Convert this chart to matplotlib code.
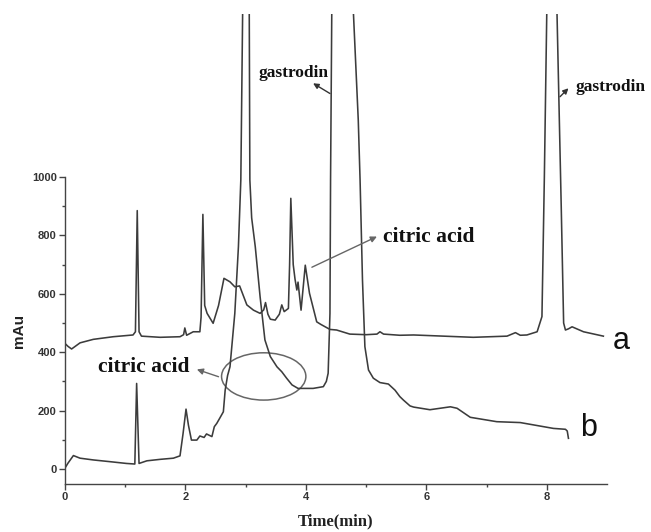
import matplotlib
matplotlib.use("Agg")
import matplotlib.pyplot as plt
from matplotlib.patches import Ellipse

# ---- data (time in min, absorbance in mAu) ----
time_a = [0.00, 0.05, 0.11, 0.25, 0.47, 0.80, 1.13, 1.17, 1.20, 1.23, 1.27, 1.58, 1.91,
          1.97, 1.99, 2.02, 2.13, 2.24, 2.26, 2.29, 2.32, 2.36, 2.46, 2.55, 2.64, 2.74,
          2.82, 2.90, 3.02, 3.13, 3.24, 3.30, 3.33, 3.37, 3.41, 3.49, 3.56, 3.60, 3.64,
          3.71, 3.73, 3.75, 3.79, 3.82, 3.85, 3.87, 3.92, 3.99, 4.06, 4.18, 4.25, 4.40,
          4.51, 4.73, 5.00, 5.18, 5.23, 5.29, 5.56, 5.79, 6.78, 7.34, 7.48, 7.56, 7.67,
          7.84, 7.92, 7.96, 8.00, 8.085, 8.17, 8.24, 8.28, 8.31, 8.36, 8.42, 8.61, 8.94]
signal_a = [430, 420, 411, 432, 444, 453, 459, 470, 885, 470, 455, 451, 453,
            460, 483, 458, 470, 470, 520, 872, 560, 533, 499, 560, 653, 641,
            624, 627, 562, 544, 533, 545, 570, 530, 513, 510, 530, 562, 539,
            550, 700, 927, 700, 650, 613, 640, 544, 698, 602, 504, 495, 478,
            476, 462, 460, 462, 470, 462, 458, 459, 451, 455, 467, 458, 459,
            470, 522, 1000, 1560, 3500, 1560, 900, 500, 476, 480, 487, 470, 455]

time_b = [0.00, 0.05, 0.14, 0.25, 0.47, 0.75, 1.02, 1.16, 1.19, 1.23, 1.36, 1.58, 1.80,
          1.91, 1.96, 2.01, 2.05, 2.10, 2.19, 2.24, 2.31, 2.35, 2.44, 2.48, 2.52, 2.57,
          2.63, 2.66, 2.70, 2.74, 2.82, 2.88, 2.92, 2.95, 3.00, 3.06, 3.07, 3.10, 3.16,
          3.24, 3.32, 3.41, 3.52, 3.60, 3.68, 3.77, 3.87, 4.12, 4.29, 4.34, 4.37, 4.40,
          4.41, 4.43, 4.60, 4.79, 4.87, 4.90, 4.94, 4.98, 5.04, 5.12, 5.23, 5.37, 5.48,
          5.56, 5.62, 5.73, 5.79, 6.06, 6.40, 6.51, 6.73, 7.17, 7.56, 7.89, 8.11, 8.31,
          8.34, 8.36]
signal_b = [3, 20, 46, 37, 31, 25, 19, 17, 293, 19, 28, 33, 37,
            45, 120, 205, 150, 99, 99, 113, 108, 120, 111, 145, 156, 174,
            196, 270, 320, 350, 533, 761, 990, 1560, 3500, 1560, 990, 860, 761,
            590, 442, 385, 350, 333, 311, 288, 276, 276, 282, 300, 328, 533,
            990, 1560, 3500, 1560, 1195, 990, 647, 419, 339, 311, 296, 291, 270,
            248, 236, 216, 212, 203, 213, 208, 177, 162, 159, 147, 139, 136,
            130, 105]

x_ticks = [0, 2, 4, 6, 8]
y_ticks = [0, 200, 400, 600, 800, 1000]

line_color = "#3c3c3c"
serif = ["Liberation Serif", "DejaVu Serif"]
sans = ["Liberation Sans", "DejaVu Sans"]

fig = plt.figure(figsize=(6.51, 5.32), dpi=100)
ax = fig.add_axes([0.0998, 0.091, 0.8326, 0.8836])

ax.plot(time_a, signal_a, color=line_color, lw=1.15)
ax.plot(time_b, signal_b, color=line_color, lw=1.15)

ax.set_xlim(0, 9)
ax.set_ylim(-50, 1560)

for s in ["top", "right"]:
    ax.spines[s].set_visible(False)
ax.spines["left"].set_bounds(-50, 1000)
for s in ["left", "bottom"]:
    ax.spines[s].set_color("#444444")
    ax.spines[s].set_linewidth(1.0)

ax.set_xticks(x_ticks)
ax.set_xticks([1, 3, 5, 7], minor=True)
ax.set_yticks(y_ticks)
ax.set_yticks([100, 300, 500, 700, 900], minor=True)
ax.tick_params(which="major", direction="out", length=4, width=1.0, color="#444444",
               labelsize=8, pad=2)
ax.tick_params(which="minor", direction="out", length=2.5, width=1.0, color="#444444")
for lab in ax.get_xticklabels() + ax.get_yticklabels():
    lab.set_fontfamily(sans)
    lab.set_fontweight("bold")
    lab.set_color("#333333")

fig.text(336 / 651, 1 - 521 / 532, "Time(min)", family=serif, weight="bold",
         fontsize=12, ha="center", va="center", color="#222222")
fig.text(18.5 / 651, 1 - 331 / 532, "mAu", family=sans, weight="bold",
         fontsize=11, rotation=90, ha="center", va="center", color="#222222")

# annotations
ax.text(3.80, 1356, "gastrodin", family=serif, weight="bold", fontsize=12.5,
        ha="center", va="center", color="#111111")
ax.annotate("", xy=(4.12, 1321), xytext=(4.40, 1286),
            arrowprops=dict(arrowstyle="-|>", color="#333333", lw=1.0,
                            mutation_scale=8, shrinkA=0, shrinkB=0))
ax.text(8.47, 1308, "gastrodin", family=serif, weight="bold", fontsize=12.5,
        ha="left", va="center", color="#111111", clip_on=False)
ax.annotate("", xy=(8.36, 1304), xytext=(8.22, 1275),
            arrowprops=dict(arrowstyle="-|>", color="#333333", lw=1.0,
                            mutation_scale=8, shrinkA=0, shrinkB=0))

ax.text(5.28, 793, "citric acid", family=serif, weight="bold", fontsize=15.5,
        ha="left", va="center", color="#111111")
ax.annotate("", xy=(5.18, 796), xytext=(4.10, 691),
            arrowprops=dict(arrowstyle="-|>", color="#666666", lw=1.0,
                            mutation_scale=9, shrinkA=0, shrinkB=0))

ax.text(0.55, 348, "citric acid", family=serif, weight="bold", fontsize=15.5,
        ha="left", va="center", color="#111111")
ax.annotate("", xy=(2.19, 341), xytext=(2.55, 316),
            arrowprops=dict(arrowstyle="-|>", color="#666666", lw=1.0,
                            mutation_scale=9, shrinkA=0, shrinkB=0))

ax.add_patch(Ellipse((3.30, 317), 1.40, 162, fill=False, edgecolor="#666666", lw=1.1))

ax.text(9.10, 438, "a", family=sans, fontsize=22, ha="left", va="center",
        color="#111111", clip_on=False)
ax.text(8.55, 140, "b", family=sans, fontsize=22, ha="left", va="center",
        color="#111111", clip_on=False)

fig.savefig("out.png", dpi=100, facecolor="white")
